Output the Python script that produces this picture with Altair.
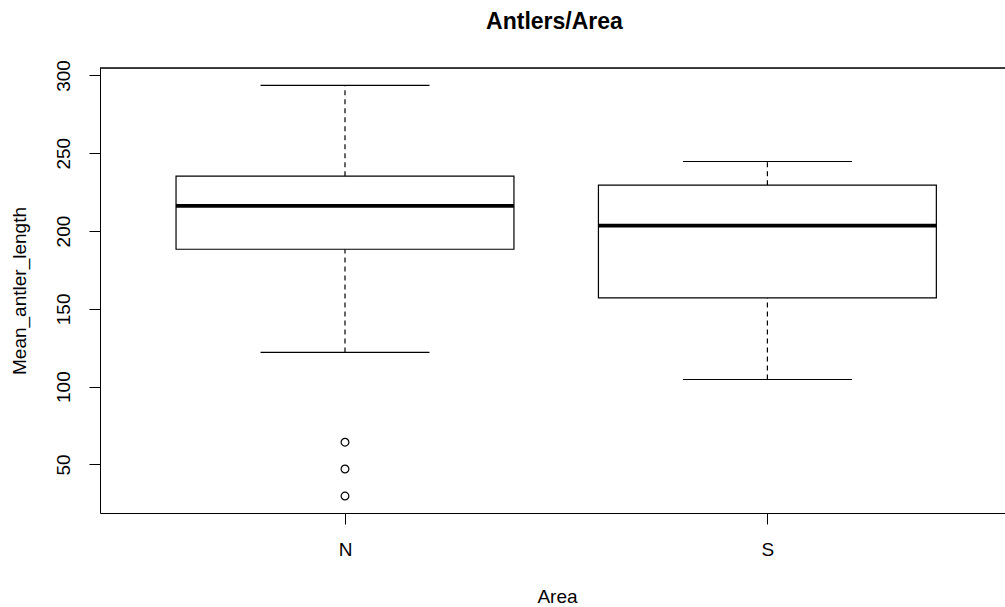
import altair as alt
import pandas as pd

# ---- data ----
areas = ["N", "S"]
lower_whisker = [122.0, 104.6]
q1 = [188.3, 157.1]
median = [216.2, 203.5]
q3 = [235.3, 229.5]
upper_whisker = [293.6, 244.7]
outlier_area = ["N", "N", "N"]
outlier_values = [64.3, 47.1, 29.7]
y_ticks = [50, 100, 150, 200, 250, 300]

FONT = "Liberation Sans"
BOX_HALF = 0.4
CAP_HALF = 0.2

pos = {a: i + 1 for i, a in enumerate(areas)}
stats = pd.DataFrame({
    "area": areas,
    "pos": [pos[a] for a in areas],
    "lo": lower_whisker, "q1": q1, "med": median, "q3": q3, "hi": upper_whisker,
})
stats["bx1"] = stats["pos"] - BOX_HALF
stats["bx2"] = stats["pos"] + BOX_HALF
stats["cx1"] = stats["pos"] - CAP_HALF
stats["cx2"] = stats["pos"] + CAP_HALF
outl = pd.DataFrame({"area": outlier_area, "value": outlier_values})
outl["pos"] = outl["area"].map(pos)

W, H = 905, 445
xscale = alt.Scale(domain=[0.42, 0.42 + W / 422.4], nice=False, zero=False)
yscale = alt.Scale(domain=[18.8, 304.8], nice=False, zero=False)

label_expr = "datum.value == 1 ? 'N' : (datum.value == 2 ? 'S' : '')"
xaxis = alt.Axis(values=[1, 2], labelExpr=label_expr, title="Area", grid=False,
                 domainColor="black", tickColor="black", tickSize=11,
                 labelPadding=31, labelBaseline="alphabetic", labelFont=FONT,
                 labelFontSize=19, labelColor="black", labelAngle=0,
                 titleFont=FONT, titleFontSize=19, titleFontWeight="normal",
                 titleColor="black", titleX=457, titleY=89,
                 titleBaseline="alphabetic", titleAlign="center")
yaxis = alt.Axis(values=y_ticks, title="Mean_antler_length", grid=False,
                 domainColor="black", tickColor="black", tickSize=11,
                 labelAngle=270, labelAlign="center", labelBaseline="alphabetic",
                 labelPadding=20, labelFont=FONT, labelFontSize=19,
                 labelColor="black", titleFont=FONT, titleFontSize=19,
                 titleFontWeight="normal", titleColor="black", titleAngle=270,
                 titleX=-75, titleY=222.5, titleAlign="center",
                 titleBaseline="alphabetic")

base = alt.Chart(stats)

upper_dash = base.mark_rule(color="black", strokeWidth=1.2, strokeDash=[5, 4]).encode(
    x=alt.X("pos:Q", scale=xscale, axis=xaxis),
    y=alt.Y("q3:Q", scale=yscale, axis=yaxis),
    y2="hi:Q",
)
lower_dash = base.mark_rule(color="black", strokeWidth=1.2, strokeDash=[5, 4]).encode(
    x="pos:Q", y="lo:Q", y2="q1:Q",
)
box = base.mark_rect(fill="white", stroke="black", strokeWidth=1.2).encode(
    x="bx1:Q", x2="bx2:Q", y="q1:Q", y2="q3:Q",
)
med = base.mark_rule(color="black", strokeWidth=3.6).encode(
    x="bx1:Q", x2="bx2:Q", y="med:Q",
)
cap_hi = base.mark_rule(color="black", strokeWidth=1.2).encode(
    x="cx1:Q", x2="cx2:Q", y="hi:Q",
)
cap_lo = base.mark_rule(color="black", strokeWidth=1.2).encode(
    x="cx1:Q", x2="cx2:Q", y="lo:Q",
)
pts = alt.Chart(outl).mark_point(shape="circle", filled=False, color="black",
                                 strokeWidth=1.2, size=60, opacity=1).encode(
    x="pos:Q", y="value:Q",
)
top_border = alt.Chart(stats).mark_rule(color="black", strokeWidth=1).encode(
    x=alt.value(0), x2=alt.value(W), y=alt.value(0),
)

chart = alt.layer(
    upper_dash, lower_dash, box, med, cap_hi, cap_lo, pts, top_border
).properties(
    width=W, height=H,
    title=alt.TitleParams("Antlers/Area", font=FONT, fontSize=23,
                          fontWeight="bold", color="black", anchor="middle",
                          baseline="alphabetic", offset=8, dx=2),
    autosize=alt.AutoSizeParams(type="none"),
    padding={"left": 100, "top": 68, "right": 0, "bottom": 94},
).configure_view(stroke=None).configure(background="white")

chart.save("out.html", embed_options={"renderer": "svg", "actions": False})
